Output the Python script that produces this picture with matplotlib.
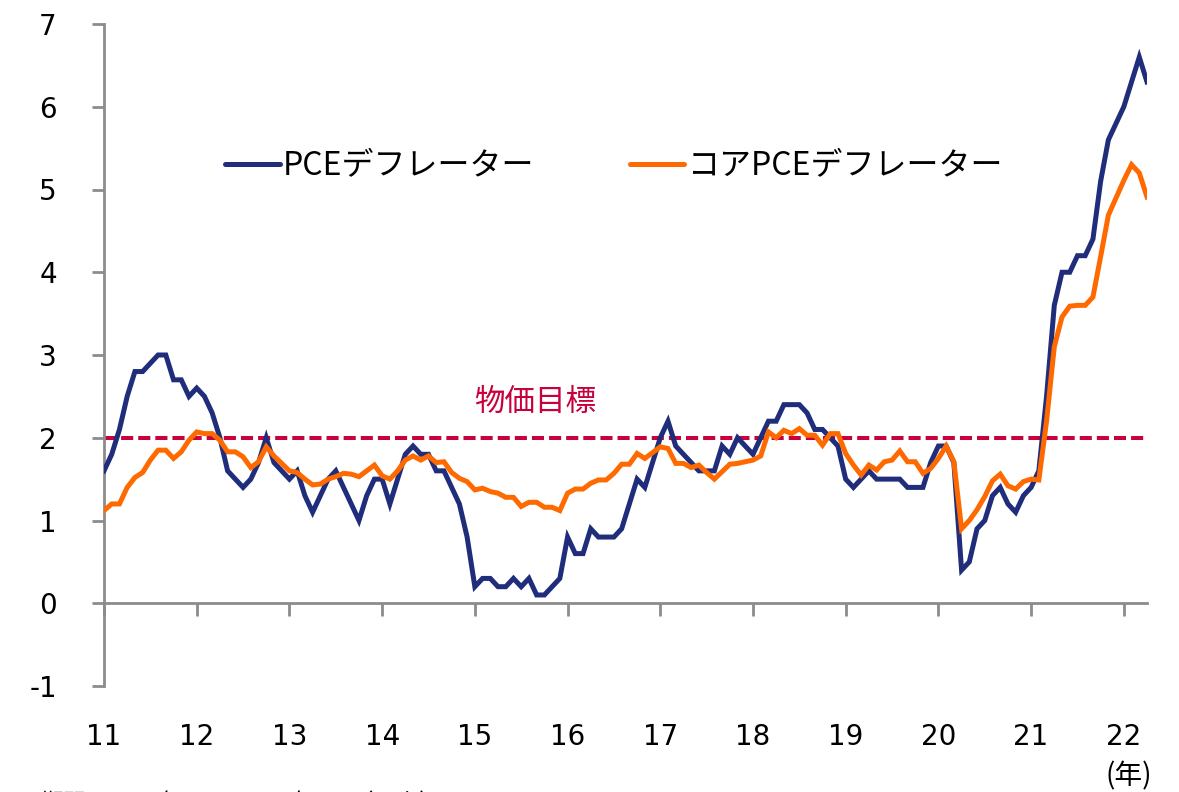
import matplotlib
matplotlib.use("Agg")
import matplotlib.pyplot as plt
import numpy as np

# ---- data (monthly, Jan 2011 - Apr 2022, YoY %) ----
pce = [1.6, 1.8, 2.1, 2.5, 2.8, 2.8, 2.9, 3.0, 3.0, 2.7, 2.7, 2.5,
       2.6, 2.5, 2.3, 2.0, 1.6, 1.5, 1.4, 1.5, 1.7, 2.0, 1.7, 1.6,
       1.5, 1.6, 1.3, 1.1, 1.3, 1.5, 1.6, 1.4, 1.2, 1.0, 1.3, 1.5,
       1.5, 1.2, 1.5, 1.8, 1.9, 1.8, 1.8, 1.6, 1.6, 1.4, 1.2, 0.8,
       0.2, 0.3, 0.3, 0.2, 0.2, 0.3, 0.2, 0.3, 0.1, 0.1, 0.2, 0.3,
       0.8, 0.6, 0.6, 0.9, 0.8, 0.8, 0.8, 0.9, 1.2, 1.5, 1.4, 1.7,
       2.0, 2.2, 1.9, 1.8, 1.7, 1.6, 1.6, 1.6, 1.9, 1.8, 2.0, 1.9,
       1.8, 2.0, 2.2, 2.2, 2.4, 2.4, 2.4, 2.3, 2.1, 2.1, 2.0, 1.9,
       1.5, 1.4, 1.5, 1.6, 1.5, 1.5, 1.5, 1.5, 1.4, 1.4, 1.4, 1.7,
       1.9, 1.9, 1.7, 0.4, 0.5, 0.9, 1.0, 1.3, 1.4, 1.2, 1.1, 1.3,
       1.4, 1.6, 2.5, 3.6, 4.0, 4.0, 4.2, 4.2, 4.4, 5.1, 5.6, 5.8,
       6.0, 6.3, 6.6, 6.3]

core_pce = [1.12, 1.2, 1.2, 1.4, 1.52, 1.58, 1.73, 1.85, 1.85, 1.75, 1.83, 1.97,
            2.07, 2.05, 2.05, 1.97, 1.83, 1.83, 1.77, 1.64, 1.71, 1.89, 1.78, 1.69,
            1.6, 1.58, 1.5, 1.43, 1.44, 1.5, 1.53, 1.57, 1.56, 1.53, 1.6, 1.67,
            1.54, 1.5, 1.6, 1.73, 1.78, 1.73, 1.78, 1.7, 1.71, 1.58, 1.51, 1.47,
            1.37, 1.39, 1.35, 1.33, 1.28, 1.28, 1.17, 1.22, 1.22, 1.16, 1.16, 1.12,
            1.33, 1.38, 1.38, 1.45, 1.49, 1.49, 1.57, 1.68, 1.68, 1.81, 1.75, 1.82,
            1.89, 1.87, 1.69, 1.69, 1.64, 1.67, 1.58, 1.5, 1.59, 1.68, 1.69, 1.71,
            1.73, 1.78, 2.07, 2.0, 2.09, 2.05, 2.11, 2.03, 2.03, 1.91, 2.05, 2.05,
            1.81, 1.67, 1.55, 1.67, 1.61, 1.71, 1.73, 1.84, 1.71, 1.71, 1.57, 1.63,
            1.75, 1.9, 1.71, 0.9, 1.0, 1.13, 1.29, 1.48, 1.56, 1.42, 1.38, 1.47,
            1.5, 1.49, 2.2, 3.1, 3.46, 3.59, 3.6, 3.6, 3.7, 4.19, 4.69, 4.9,
            5.11, 5.3, 5.2, 4.91]

target = 2.0
year_labels = ["11", "12", "13", "14", "15", "16", "17", "18", "19", "20", "21", "22"]
y_ticks = [-1, 0, 1, 2, 3, 4, 5, 6, 7]

series_names = ["PCEデフレーター", "コアPCEデフレーター"]
target_label = "物価目標"
unit_label = "(年)"
note = "期間：2011年1月～2022年4月（月次）"

# ---- styling ----
C_BLUE = "#1f2d7b"
C_ORANGE = "#ff6a00"
C_RED = "#c8003c"
C_AXIS = "#8c8c8c"
JP = ["Noto Sans CJK JP", "DejaVu Sans"]
NUM = ["DejaVu Sans"]

W, H = 1179, 792
fig = plt.figure(figsize=(W / 100, H / 100), dpi=100)
ax = fig.add_axes([104 / W, 1 - 686 / H, (1147 - 104) / W, (686 - 24) / H])

months = np.arange(len(pce))
ax.plot(months, pce, color=C_BLUE, lw=3.6, solid_joinstyle="miter",
        label=series_names[0], zorder=3)
ax.plot(months, core_pce, color=C_ORANGE, lw=3.6, solid_joinstyle="miter",
        label=series_names[1], zorder=4)
ax.axhline(target, color=C_RED, lw=2.9, ls=(0, (3.0, 1.25)), zorder=2)

ax.text(55.8, 2.43, target_label, color=C_RED, fontsize=22, family=JP,
        ha="center", va="center")

ax.set_xlim(0, len(pce) - 1)
ax.set_ylim(-1, 7)

# spines
for s in ["top", "right"]:
    ax.spines[s].set_visible(False)
ax.spines["left"].set_color(C_AXIS)
ax.spines["left"].set_linewidth(2)
ax.spines["bottom"].set_position(("data", 0))
ax.spines["bottom"].set_color(C_AXIS)
ax.spines["bottom"].set_linewidth(2)

ax.set_yticks(y_ticks)
ax.set_yticklabels([str(v) for v in y_ticks], family=NUM, fontsize=20)
ax.set_xticks(np.arange(0, len(pce), 12))
ax.set_xticklabels(year_labels, family=NUM, fontsize=20)
ax.tick_params(axis="y", direction="out", length=9, width=2, color=C_AXIS,
               pad=25, labelcolor="black")
ax.tick_params(axis="x", direction="out", length=9, width=2, color=C_AXIS,
               pad=77, labelcolor="black")

leg = ax.legend(loc="center left", bbox_to_anchor=(0.116, 0.785), ncol=2,
                frameon=False, prop={"family": JP, "size": 23},
                handlelength=1.72, handletextpad=0.1, columnspacing=2.97,
                borderaxespad=0, borderpad=0)
for line in leg.get_lines():
    line.set_linewidth(3.6)
    line.set_solid_capstyle("round")

fig.text(1152 / W, 1 - 776 / H, unit_label, family=JP, fontsize=20,
         ha="right", va="center")
fig.text(40 / W, 1 - 810 / H, note, family=JP, fontsize=16.5,
         ha="left", va="baseline")

fig.savefig("out.png", dpi=100, facecolor="white")
